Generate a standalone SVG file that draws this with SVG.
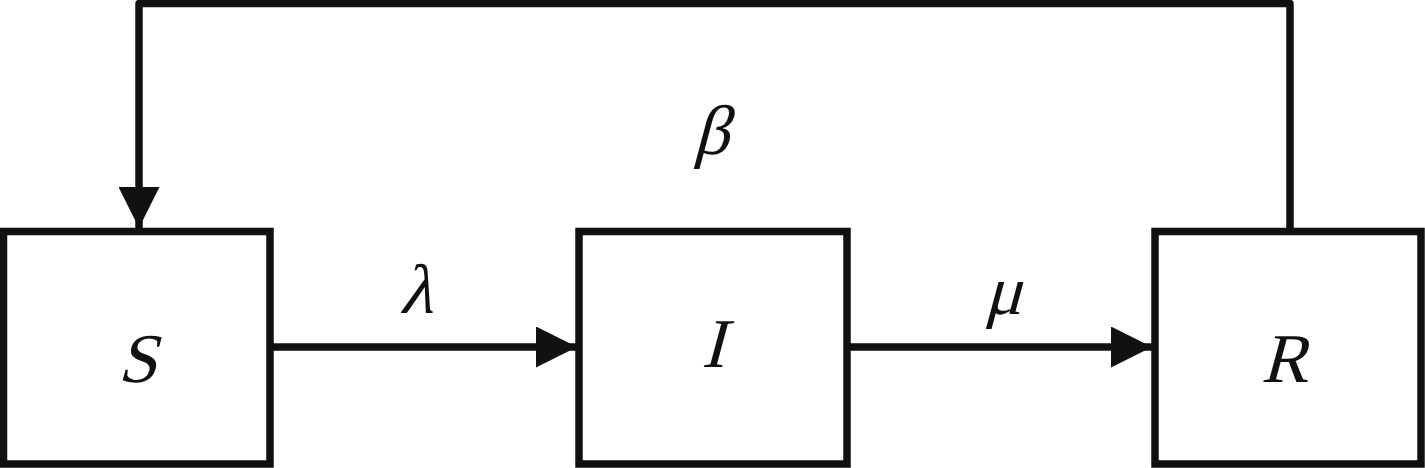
<svg xmlns="http://www.w3.org/2000/svg" width="1425" height="468" viewBox="0 0 1425 468">
<style>
.box{fill:#fff;stroke:#111;stroke-width:7.5}
.edge{fill:none;stroke:#111;stroke-width:7.5;stroke-linejoin:round}
.lbl{fill:#111}
</style>
<defs>
<marker id="ah" markerUnits="userSpaceOnUse" markerWidth="41" markerHeight="41" refX="40" refY="20" orient="auto" viewBox="0 0 40 40">
<path d="M0,0 L40,20 L0,40 Z" fill="#111"/>
</marker>
</defs>
<rect width="1425" height="468" fill="#fff"/>
<g id="connectors">
<path class="edge" d="M270,347 H577" marker-end="url(#ah)"/>
<path class="edge" d="M847,347 H1152" marker-end="url(#ah)"/>
<path class="edge" d="M1290,231 V3.5 H139 V228" marker-end="url(#ah)"/>
<text class="lbl" font-family="Liberation Serif" font-size="70" text-anchor="middle" transform="translate(416,313) skewX(-15)">λ</text>
<text class="lbl" font-family="Liberation Serif" font-size="70" text-anchor="middle" transform="translate(1003,314) skewX(-15)">μ</text>
<text class="lbl" font-family="Liberation Serif" font-size="70" text-anchor="middle" transform="translate(711,154) skewX(-15)">β</text>
</g>
<g id="S">
<rect class="box" x="3.5" y="231.5" width="266.5" height="232.5"/>
<text class="lbl" font-family="Liberation Serif" font-size="70" text-anchor="middle" transform="translate(137,382) skewX(-15)">S</text>
</g>
<g id="I">
<rect class="box" x="579" y="231.5" width="268" height="232.5"/>
<text class="lbl" font-family="Liberation Serif" font-size="70" text-anchor="middle" transform="translate(713,367) skewX(-15)">I</text>
</g>
<g id="R">
<rect class="box" x="1155" y="231.5" width="266" height="232.5"/>
<text class="lbl" font-family="Liberation Serif" font-size="70" text-anchor="middle" transform="translate(1284,382) skewX(-15)">R</text>
</g>
</svg>
